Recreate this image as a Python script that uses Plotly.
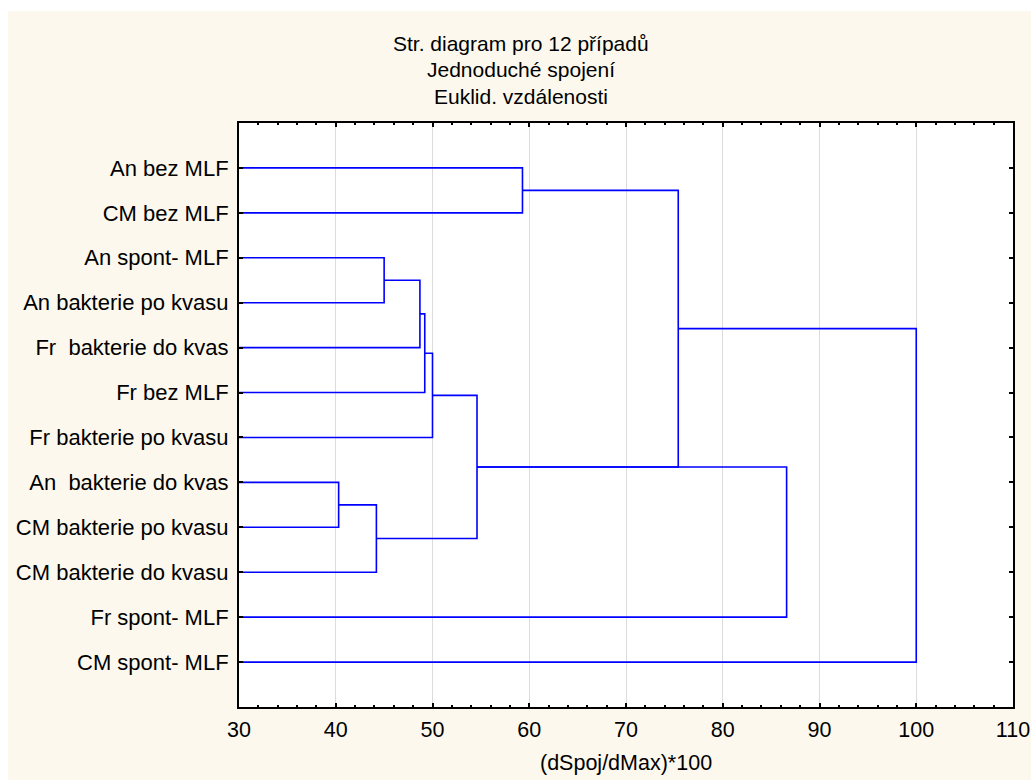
import plotly.graph_objects as go

# ---- data ----
leaf_labels = [
    "An bez MLF", "CM bez MLF", "An spont- MLF", "An bakterie po kvasu",
    "Fr\u00a0 bakterie do kvas", "Fr bez MLF", "Fr bakterie po kvasu",
    "An\u00a0 bakterie do kvas", "CM bakterie po kvasu", "CM bakterie do kvasu",
    "Fr spont- MLF", "CM spont- MLF",
]
# merges: (cluster a, cluster b, linkage distance); new clusters numbered from 12
merge_a = [0, 2, 13, 14, 15, 7, 17, 16, 12, 19, 20]
merge_b = [1, 3, 4, 5, 6, 8, 9, 18, 19, 10, 11]
merge_h = [59.3, 45.0, 48.7, 49.2, 50.0, 40.3, 44.2, 54.6, 75.4, 86.6, 100.0]
x_ticks = [30, 40, 50, 60, 70, 80, 90, 100, 110]

title_lines = ["Str. diagram pro 12 případů", "Jednoduché spojení", "Euklid. vzdálenosti"]
x_title = "(dSpoj/dMax)*100"

# ---- layout geometry (figure pixels; page offset 8,11) ----
OX, OY = 8, 11
W, H = 1023, 769
L, R, T, B = 231.3, 1005.3, 111.7, 695.7
pw, ph = R - L, B - T

def pxx(px):
    return (px - OX - L) / pw

def pxy(py):
    return (B - (py - OY)) / ph

FONT = "Liberation Sans, Arial, sans-serif"
BLUE = "#0000FF"

# ---- compute dendrogram coordinates ----
n = len(leaf_labels)
node_y = {i: i + 1 for i in range(n)}
node_x = {i: 30.0 for i in range(n)}
xs, ys = [], []
for k, (a, b, h) in enumerate(zip(merge_a, merge_b, merge_h)):
    new = n + k
    xs += [node_x[a], h, h, node_x[b], None]
    ys += [node_y[a], node_y[a], node_y[b], node_y[b], None]
    node_x[new] = h
    node_y[new] = (node_y[a] + node_y[b]) / 2

fig = go.Figure()
fig.add_trace(go.Scatter(x=xs, y=ys, mode="lines",
                         line=dict(color=BLUE, width=1.6),
                         hoverinfo="skip", showlegend=False, cliponaxis=False))

fig.update_layout(
    width=W, height=H,
    margin=dict(l=L, r=W - R, t=T, b=H - B, pad=0),
    paper_bgcolor="#FCF8EE",
    plot_bgcolor="white",
    font=dict(family=FONT, size=21, color="black"),
    showlegend=False,
)

fig.update_xaxes(
    range=[30, 110], tickvals=x_ticks, ticks="inside", ticklen=4, tickwidth=1.5,
    tickcolor="black", showline=True, linecolor="black", linewidth=2,
    mirror="ticks", showgrid=True, gridcolor="#DCDCDC", gridwidth=1,
    zeroline=False, tickfont=dict(size=21.5, family=FONT), automargin=False,
    minor=dict(dtick=2, ticks="inside", ticklen=2, tickcolor="black", showgrid=False),
    ticklabelstandoff=2,
)
fig.update_yaxes(
    range=[13, 0], tickvals=list(range(1, n + 1)), ticktext=leaf_labels,
    ticks="inside", ticklen=4, tickwidth=1.5, tickcolor="black",
    showline=True, linecolor="black", linewidth=2, mirror="ticks",
    showgrid=False, zeroline=False, tickfont=dict(size=22, family=FONT),
    automargin=False, ticklabelstandoff=4,
)

# title lines
for i, t in enumerate(title_lines):
    fig.add_annotation(text=t, xref="paper", yref="paper", x=pxx(521),
                       y=pxy(43 + 26.7 * i), xanchor="center", yanchor="middle",
                       showarrow=False, font=dict(size=21, family=FONT))

fig.add_annotation(text=x_title, xref="paper", yref="paper", x=0.5,
                   y=pxy(763), xanchor="center", yanchor="middle",
                   showarrow=False, font=dict(size=21.5, family=FONT))

fig.write_html(
    "out.html",
    post_script="document.body.style.margin='11px 0 0 8px';"
                "document.body.style.overflow='hidden';"
                "document.body.style.background='white';",
)
